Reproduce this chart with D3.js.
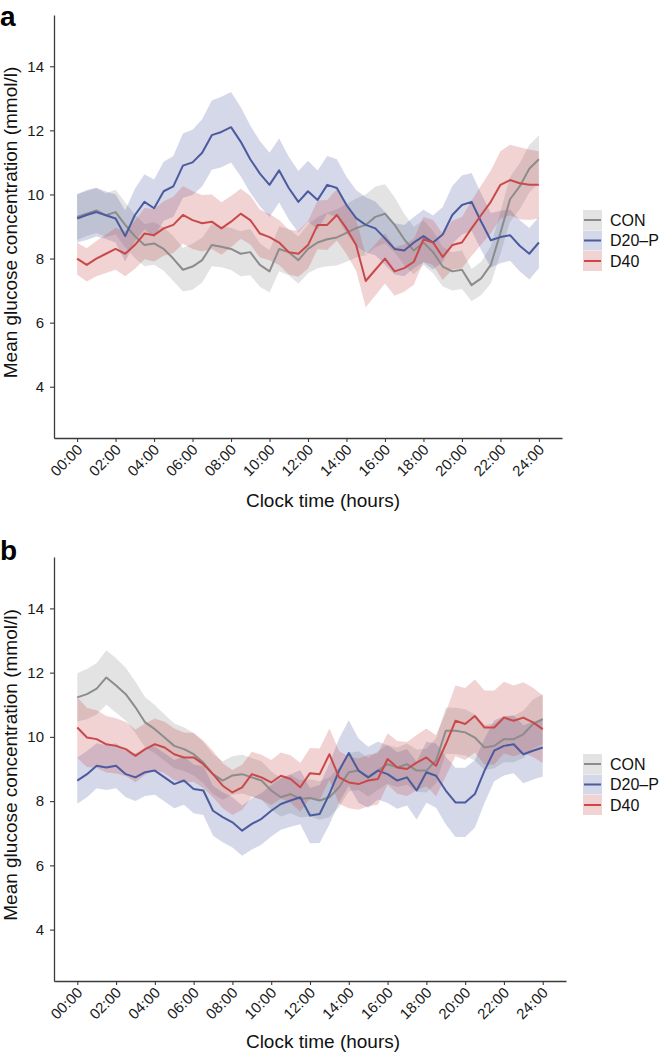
<!DOCTYPE html>
<html><head><meta charset="utf-8">
<script src="https://cdn.jsdelivr.net/npm/d3@7"></script>
<style>
body{margin:0;background:#fff;}
svg{display:block;font-family:"Liberation Sans",Arial,Helvetica,sans-serif;}
</style></head>
<body>
<svg id="chart" width="662" height="1054"></svg>
<script>
// ---- data (half-hourly, 00:00 .. 24:00) ----
const groups = ["CON", "D20\u2013P", "D40"];
const xTicks = [0,2,4,6,8,10,12,14,16,18,20,22,24];
const yTicks = [4,6,8,10,12,14];

// Panel a means
const conA = [9.3,9.4,9.5,9.35,9.45,9.05,8.7,8.42,8.47,8.3, 8.0,7.65,7.75,7.95,8.42,8.37,8.3,8.15,8.2,7.8, 7.6,8.3,8.2,7.95,8.3,8.5,8.6,8.66,8.8,8.95, 9.05,9.3,9.4,9.05,8.6,8.25,8.5,8.2,7.75,7.6, 7.65,7.17,7.38,7.8,8.8,9.85,10.25,10.8,11.1];
const d20A = [9.25,9.36,9.45,9.35,9.25,8.7,9.35,9.77,9.57,10.1, 10.25,10.9,11.0,11.3,11.85,11.95,12.1,11.65,11.1,10.65, 10.3,10.75,10.2,9.77,10.1,9.83,10.3,10.2,9.67,9.26, 9.05,8.94,8.63,8.3,8.25,8.5,8.7,8.5,8.75,9.36, 9.67,9.77,9.15,8.57,8.67,8.73,8.4,8.15,8.5];
const d40A = [8.0,7.8,8.0,8.15,8.3,8.15,8.42,8.78,8.73,8.94, 9.05,9.36,9.2,9.1,9.15,8.94,9.15,9.4,9.2,8.78, 8.67,8.5,8.2,8.15,8.42,9.05,9.05,9.36,8.94,8.42, 7.3,7.65,8.0,7.6,7.7,7.9,8.6,8.5,8.05,8.42, 8.5,8.94,9.36,9.77,10.3,10.45,10.35,10.3,10.3];
// Panel a ribbon half-widths
const conAsd = [0.72,0.7,0.7,0.68,0.7,0.7,0.68,0.66,0.66,0.68, 0.7,0.68,0.72,0.7,0.66,0.64,0.66,0.7,0.72,0.68, 0.66,0.7,0.72,0.74,0.76,0.8,0.84,0.88,0.9,0.92, 0.95,0.95,0.92,0.86,0.8,0.74,0.7,0.66,0.62,0.6, 0.6,0.5,0.52,0.58,0.66,0.7,0.72,0.74,0.75];
const d20Asd = [0.75,0.78,0.76,0.74,0.75,0.8,0.82,0.86,0.9,0.92, 0.95,1.0,1.02,1.05,1.08,1.1,1.1,1.08,1.05,1.02, 1.0,1.0,0.98,0.96,0.95,0.92,0.9,0.9,0.88,0.88, 0.86,0.84,0.82,0.8,0.8,0.8,0.82,0.84,0.86,0.9, 0.92,0.9,0.88,0.85,0.82,0.8,0.8,0.8,0.8];
const d40Asd = [0.5,0.52,0.55,0.6,0.65,0.7,0.75,0.8,0.82,0.85, 0.88,0.9,0.9,0.88,0.85,0.82,0.8,0.78,0.76,0.75, 0.72,0.7,0.7,0.72,0.74,0.76,0.78,0.8,0.8,0.8, 0.82,0.8,0.78,0.76,0.74,0.72,0.7,0.7,0.72,0.76, 0.8,0.86,0.92,0.98,1.05,1.1,1.12,1.1,1.05];

// Panel b means
const conB = [11.23,11.33,11.5,11.85,11.6,11.33,10.92,10.45,10.24,9.98, 9.72,9.62,9.46,9.2,8.84,8.64,8.8,8.84,8.74,8.64, 8.33,8.12,8.22,8.07,8.1,8.02,8.12,8.43,8.9,8.95, 8.74,8.95,9.15,9.05,9.15,8.95,8.95,9.26,10.19,10.19, 10.14,9.98,9.67,9.72,9.93,9.93,10.08,10.4,10.55];
const d20B = [8.64,8.84,9.1,9.05,9.1,8.84,8.74,8.9,8.95,8.74, 8.53,8.64,8.38,8.33,7.7,7.5,7.34,7.08,7.29,7.45, 7.7,7.91,8.02,8.12,7.55,7.6,8.22,8.95,9.5,8.95, 8.74,8.95,8.84,8.64,8.74,8.33,8.9,8.79,8.33,7.96, 7.96,8.22,8.95,9.57,9.72,9.77,9.46,9.57,9.67];
const d40B = [10.29,9.98,9.93,9.77,9.72,9.62,9.41,9.62,9.77,9.67, 9.46,9.36,9.36,9.15,8.84,8.48,8.27,8.43,8.84,8.74, 8.58,8.79,8.69,8.43,8.87,8.84,9.46,8.74,8.58,8.53, 8.64,8.69,9.31,9.05,9.0,9.2,9.36,9.1,9.77,10.5, 10.4,10.65,10.29,10.29,10.6,10.5,10.6,10.45,10.24];
// Panel b ribbon half-widths
const conBsd = [0.75,0.78,0.8,0.85,0.85,0.82,0.8,0.78,0.75,0.72, 0.7,0.68,0.66,0.64,0.62,0.6,0.6,0.6,0.6,0.6, 0.6,0.6,0.6,0.58,0.58,0.6,0.62,0.62,0.6,0.6, 0.6,0.6,0.6,0.62,0.64,0.66,0.68,0.7,0.72,0.72, 0.72,0.72,0.7,0.7,0.72,0.72,0.74,0.76,0.78];
const d20Bsd = [0.72,0.72,0.7,0.7,0.7,0.72,0.74,0.74,0.75,0.75, 0.75,0.75,0.76,0.76,0.78,0.78,0.78,0.78,0.8,0.8, 0.8,0.8,0.82,0.84,0.86,0.9,0.95,1.0,1.02,1.0, 0.95,0.9,0.9,0.88,0.88,0.9,0.95,1.0,1.05,1.08, 1.08,1.05,1.0,0.95,0.92,0.9,0.9,0.9,0.9];
const d40Bsd = [0.95,0.92,0.9,0.88,0.86,0.84,0.82,0.8,0.8,0.8, 0.8,0.78,0.76,0.74,0.72,0.7,0.7,0.7,0.7,0.7, 0.7,0.72,0.74,0.76,0.78,0.8,0.8,0.82,0.8,0.8, 0.8,0.8,0.8,0.82,0.84,0.86,0.9,0.95,1.0,1.1, 1.12,1.14,1.15,1.15,1.12,1.1,1.1,1.08,1.05];

const lineColors = ["#8c8c8c", "#4b5b9e", "#c9494b"];
const fillOpacity = 0.24;

const panels = [
  {label:"a", left:54, right:562, top:15, bottom:438, means:[conA,d20A,d40A], sds:[conAsd,d20Asd,d40Asd], titleY:507, legendY:220, labelY:26},
  {label:"b", left:54, right:566, top:557, bottom:981, means:[conB,d20B,d40B], sds:[conBsd,d20Bsd,d40Bsd], titleY:1048, legendY:764, labelY:560}
];

const svg = d3.select("#chart");

panels.forEach(p => {
  const x = d3.scaleLinear().domain([-1.2, 25.2]).range([p.left, p.right]);
  const y = d3.scaleLinear().domain([2.4, 15.6]).range([p.bottom, p.top]);
  const g = svg.append("g");

  // ribbons
  p.means.forEach((m, gi) => {
    const pts = m.map((v, i) => ({h: i * 0.5, v: v, s: p.sds[gi][i]}));
    const area = d3.area().x(d => x(d.h)).y0(d => y(d.v - d.s)).y1(d => y(d.v + d.s));
    g.append("path").datum(pts).attr("d", area)
      .attr("fill", lineColors[gi]).attr("fill-opacity", fillOpacity).attr("stroke", "none");
  });
  // lines
  p.means.forEach((m, gi) => {
    const pts = m.map((v, i) => ({h: i * 0.5, v: v}));
    const line = d3.line().x(d => x(d.h)).y(d => y(d.v));
    g.append("path").datum(pts).attr("d", line)
      .attr("fill", "none").attr("stroke", lineColors[gi]).attr("stroke-width", 2)
      .attr("stroke-linejoin", "round");
  });

  // axes
  const yAxis = g.append("g").attr("transform", `translate(${p.left},0)`)
    .call(d3.axisLeft(y).tickValues(yTicks).tickSize(4).tickSizeOuter(0).tickPadding(6));
  const xAxis = g.append("g").attr("transform", `translate(0,${p.bottom})`)
    .call(d3.axisBottom(x).tickValues(xTicks).tickSize(4).tickSizeOuter(0)
      .tickFormat(h => String(h).padStart(2, "0") + ":00"));
  [xAxis, yAxis].forEach(a => {
    a.select(".domain").attr("stroke", "#3a3a3a").attr("stroke-width", 1.3);
    a.selectAll(".tick line").attr("stroke", "#3a3a3a").attr("stroke-width", 1.1);
    a.selectAll("text").attr("fill", "#1a1a1a").style("font-size", "15px")
      .style("font-family", '"Liberation Sans",Arial,Helvetica,sans-serif');
  });
  xAxis.selectAll(".tick text")
    .attr("x", 0).attr("y", 0).attr("dy", "0.35em")
    .attr("transform", "translate(2,9) rotate(-45)")
    .style("text-anchor", "end");

  // axis titles
  g.append("text").attr("x", 323).attr("y", p.titleY).attr("text-anchor", "middle")
    .style("font-size", "19px").attr("fill", "#111").text("Clock time (hours)");
  g.append("text").attr("transform", `translate(17,${(p.top + p.bottom) / 2 - 4}) rotate(-90)`)
    .attr("text-anchor", "middle").style("font-size", "19px").attr("fill", "#111")
    .text("Mean glucose concentration (mmol/l)");

  // panel label
  g.append("text").attr("x", 0).attr("y", p.labelY).style("font-size", "28px")
    .style("font-weight", "bold").attr("fill", "#000").text(p.label);

  // legend
  groups.forEach((name, gi) => {
    const cy = p.legendY + gi * 20.5;
    g.append("rect").attr("x", 583).attr("y", cy - 10).attr("width", 19).attr("height", 20)
      .attr("fill", lineColors[gi]).attr("fill-opacity", fillOpacity);
    g.append("line").attr("x1", 584).attr("x2", 601).attr("y1", cy).attr("y2", cy)
      .attr("stroke", lineColors[gi]).attr("stroke-width", 2);
    g.append("text").attr("x", 610).attr("y", cy).attr("dy", "0.35em")
      .style("font-size", "16px").attr("fill", "#111").text(name);
  });
});
</script>
</body></html>
